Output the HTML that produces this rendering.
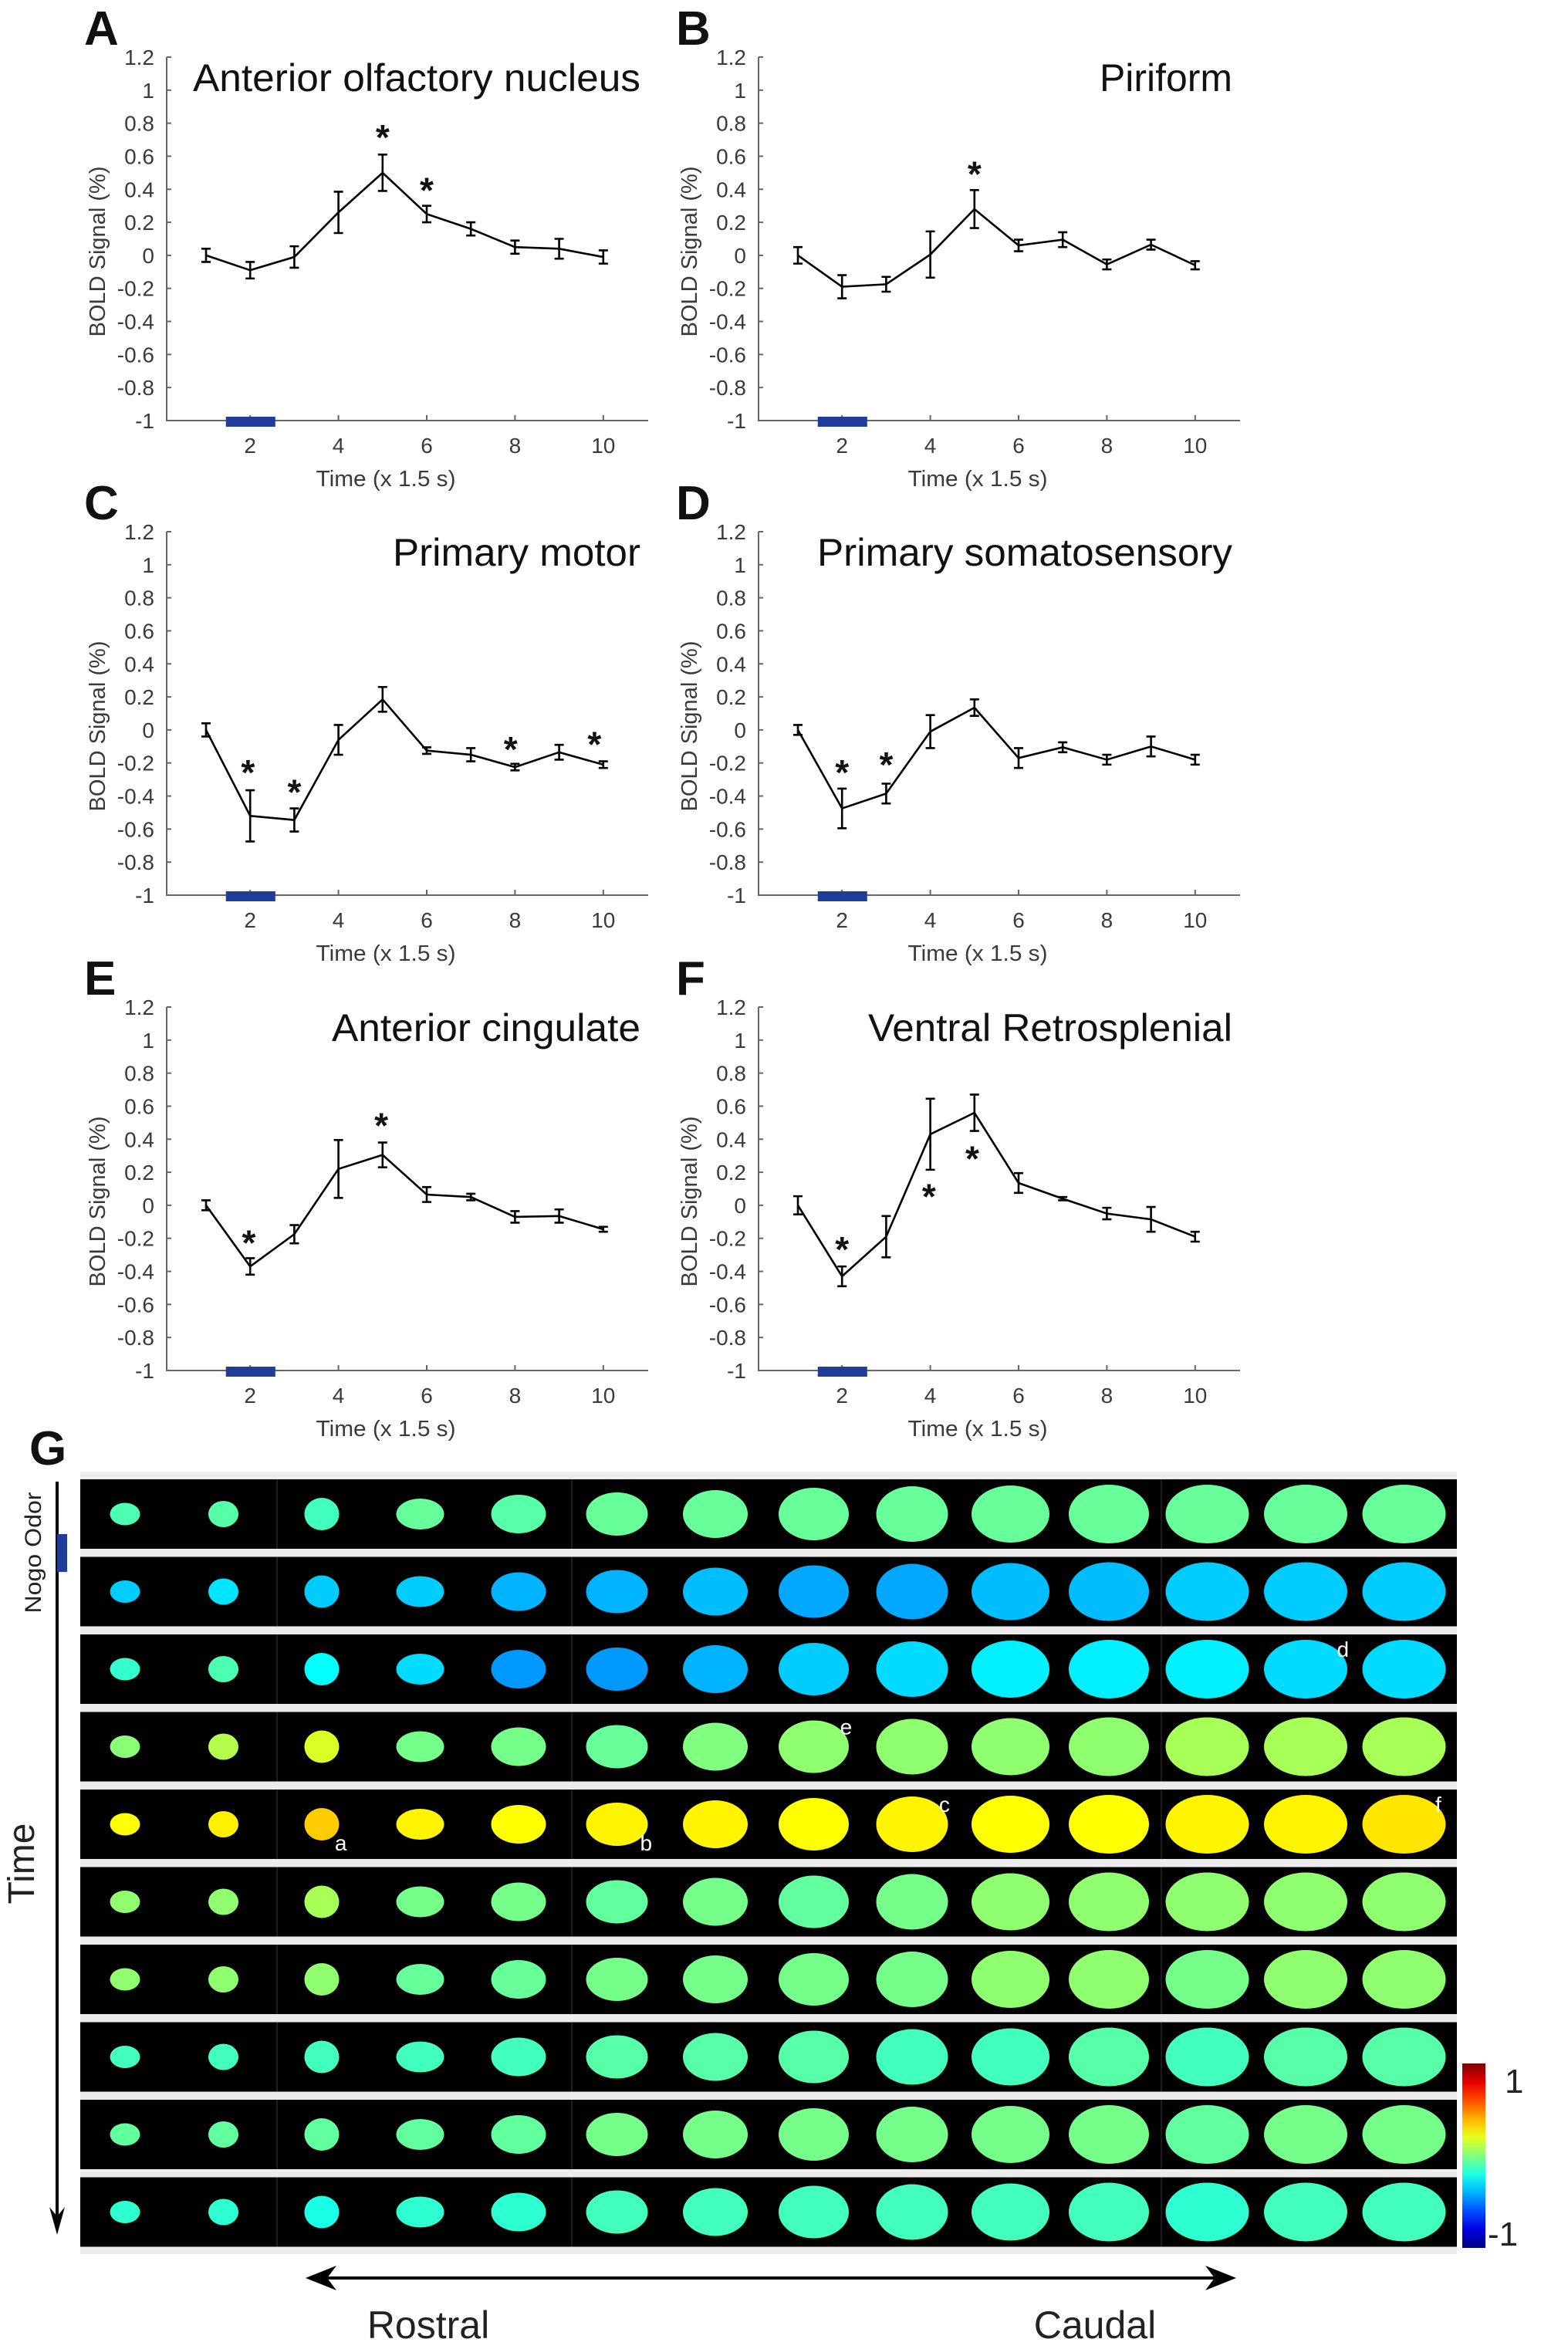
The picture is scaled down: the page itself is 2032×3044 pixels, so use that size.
<!DOCTYPE html>
<html><head><meta charset="utf-8"><style>
html,body{margin:0;padding:0;background:#fff}
svg{display:block;font-family:"Liberation Sans",sans-serif}
</style></head><body>
<svg id="fig" width="2032" height="3044" viewBox="0 0 2032 3044" xmlns="http://www.w3.org/2000/svg">
<rect x="0" y="0" width="2032" height="3044" fill="#fff"/>
<g id="charts"></g>
<g id="heat"></g>
</svg>
<script>
// ---- time-course data (panels A-F) ----
const timePoints = [1,2,3,4,5,6,7,8,9,10];
const yTicks = [1.2,1,0.8,0.6,0.4,0.2,0,-0.2,-0.4,-0.6,-0.8,-1];
const yTickLabels = ["1.2","1","0.8","0.6","0.4","0.2","0","-0.2","-0.4","-0.6","-0.8","-1"];
const xTicks = [2,4,6,8,10];
const xTickLabels = ["2","4","6","8","10"];
const panelLetters = ["A","B","C","D","E","F"];
const panelTitles = ["Anterior olfactory nucleus","Piriform","Primary motor","Primary somatosensory","Anterior cingulate","Ventral Retrosplenial"];
const stimOnset = 1.45, stimOffset = 2.57;

const meanA = [0,-0.09,-0.01,0.26,0.50,0.25,0.16,0.05,0.04,-0.01];
const errA  = [0.04,0.05,0.065,0.125,0.11,0.05,0.04,0.04,0.06,0.04];
const starA = [[5,0.76],[6,0.44]];
const meanB = [0,-0.19,-0.175,0.005,0.28,0.06,0.095,-0.055,0.065,-0.06];
const errB  = [0.05,0.07,0.045,0.14,0.115,0.035,0.045,0.03,0.03,0.025];
const starB = [[5,0.54]];
const meanC = [0,-0.52,-0.545,-0.06,0.185,-0.125,-0.15,-0.225,-0.135,-0.21];
const errC  = [0.04,0.155,0.07,0.09,0.075,0.02,0.04,0.02,0.045,0.02];
const starC = [[1.95,-0.21],[3,-0.33],[7.9,-0.07],[9.8,-0.04]];
const meanD = [0,-0.475,-0.385,-0.01,0.135,-0.17,-0.105,-0.18,-0.10,-0.18];
const errD  = [0.03,0.12,0.06,0.10,0.05,0.06,0.03,0.03,0.06,0.03];
const starD = [[2,-0.21],[3,-0.165]];
const meanE = [0,-0.37,-0.175,0.22,0.305,0.065,0.05,-0.07,-0.065,-0.145];
const errE  = [0.03,0.05,0.055,0.175,0.075,0.045,0.02,0.035,0.04,0.015];
const starE = [[1.97,-0.18],[4.97,0.53]];
const meanF = [0,-0.43,-0.19,0.43,0.56,0.135,0.04,-0.05,-0.085,-0.19];
const errF  = [0.055,0.06,0.125,0.215,0.11,0.06,0.01,0.035,0.075,0.03];
const starF = [[2,-0.22],[3.97,0.10],[4.95,0.33]];

const panelMeans = [meanA,meanB,meanC,meanD,meanE,meanF];
const panelErrs = [errA,errB,errC,errD,errE,errF];
const panelStars = [starA,starB,starC,starD,starE,starF];
const titleWidths = [580,172,321,538,400,472];

const NS = "http://www.w3.org/2000/svg";
function mk(tag, attrs, parent, txt){
  const e = document.createElementNS(NS, tag);
  for (const k in attrs) e.setAttribute(k, attrs[k]);
  if (txt !== undefined) e.textContent = txt;
  parent.appendChild(e); return e;
}
const charts = document.getElementById('charts');
const colX = [216, 983], rowY = [74, 689, 1305];
const AW = 624, AH = 471;

for (let p = 0; p < 6; p++) {
  const x0 = colX[p % 2], y0 = rowY[Math.floor(p / 2)];
  const yb = y0 + AH;
  const sx = v => x0 + 51 + (v - 1) * 57.2;
  const sy = v => y0 + (1.2 - v) * (AH / 2.2);
  const g = mk('g', {}, charts);
  
  

  const L = mk('text', {x: x0 - 107, y: y0 - 16, 'font-size': 62, 'font-weight': 'bold', fill: '#111'}, g, panelLetters[p]);
  
  

  const T = mk('text', {x: x0 + 614, y: y0 + 44, 'font-size': 50, 'text-anchor': 'end', fill: '#111', textLength: titleWidths[p], lengthAdjust: 'spacingAndGlyphs'}, g, panelTitles[p]);
  
  

  const ax = mk('path', {d: `M${x0} ${y0}V${yb}H${x0 + AW}`, stroke: '#666', 'stroke-width': 2, fill: 'none'}, g);
  
  
  yTicks.forEach((v, i) => {
    const y = sy(v);
    mk('line', {x1: x0, x2: x0 + 6, y1: y, y2: y, stroke: '#666', 'stroke-width': 2}, g);
    const t = mk('text', {x: x0 - 16, y: y + 10, 'font-size': 28, 'text-anchor': 'end', fill: '#3a3a3a'}, g, yTickLabels[i]);
    
    
  });
  xTicks.forEach((v, i) => {
    const x = sx(v);
    mk('line', {x1: x, x2: x, y1: yb, y2: yb - 7, stroke: '#666', 'stroke-width': 2}, g);
    const t = mk('text', {x: x, y: yb + 42, 'font-size': 28, 'text-anchor': 'middle', fill: '#3a3a3a'}, g, xTickLabels[i]);
    
    
  });
  const xl = mk('text', {x: x0 + 284, y: yb + 85, 'font-size': 29, 'text-anchor': 'middle', fill: '#3a3a3a', textLength: 181, lengthAdjust: 'spacingAndGlyphs'}, g, 'Time (x 1.5 s)');
  
  
  const yl = mk('text', {x: 0, y: 0, 'font-size': 29, 'text-anchor': 'middle', fill: '#3a3a3a', transform: `translate(${x0 - 80},${y0 + 252}) rotate(-90)`, textLength: 221, lengthAdjust: 'spacingAndGlyphs'}, g, 'BOLD Signal (%)');
  
  

  const sb = mk('rect', {x: sx(stimOnset), y: yb - 5, width: sx(stimOffset) - sx(stimOnset), height: 13, fill: '#1f3c99'}, g);
  
  

  const m = panelMeans[p], e = panelErrs[p];
  const ln = mk('polyline', {points: timePoints.map((t, i) => sx(t) + ',' + sy(m[i])).join(' '), fill: 'none', stroke: '#000', 'stroke-width': 2.6}, g);
  
  
  timePoints.forEach((t, i) => {
    const x = sx(t), ya = sy(m[i] + e[i]), yc = sy(m[i] - e[i]);
    const eb = mk('path', {d: `M${x} ${ya}V${yc}M${x - 6} ${ya}H${x + 6}M${x - 6} ${yc}H${x + 6}`, stroke: '#000', 'stroke-width': 2.6, fill: 'none'}, g);
    
    
  });
  panelStars[p].forEach(s => {
    const st = mk('text', {x: sx(s[0]), y: sy(s[1]) + 26, 'font-size': 46, 'font-weight': 'bold', 'text-anchor': 'middle', fill: '#111'}, g, '*');
    
    
  });
}

// ---- panel G heatmap data (mean % signal per slice, 10 time rows x 14 slices) ----
const sliceValues = [
  [-0.1,-0.08,-0.12,-0.05,-0.08,-0.05,-0.05,-0.05,-0.05,-0.05,-0.05,-0.05,-0.05,-0.05],
  [-0.35,-0.3,-0.35,-0.35,-0.4,-0.4,-0.38,-0.42,-0.42,-0.38,-0.38,-0.35,-0.35,-0.35],
  [-0.15,-0.1,-0.25,-0.32,-0.45,-0.45,-0.4,-0.35,-0.32,-0.28,-0.28,-0.28,-0.32,-0.32],
  [0.02,0.1,0.18,-0.02,-0.02,-0.05,0.0,0.03,0.03,0.03,0.03,0.08,0.08,0.08],
  [0.25,0.28,0.35,0.27,0.25,0.27,0.27,0.25,0.27,0.25,0.25,0.27,0.27,0.3],
  [0.03,0.03,0.08,-0.02,-0.02,-0.06,-0.02,-0.06,-0.02,0.03,0.03,0.03,0.03,0.03],
  [0.03,0.03,0.03,-0.05,-0.05,-0.02,-0.02,-0.02,-0.02,0.03,0.03,-0.02,0.03,0.03],
  [-0.12,-0.12,-0.12,-0.12,-0.12,-0.08,-0.08,-0.08,-0.12,-0.12,-0.08,-0.12,-0.08,-0.08],
  [-0.06,-0.06,-0.06,-0.06,-0.06,-0.02,-0.02,-0.02,-0.02,-0.02,-0.02,-0.06,-0.02,-0.02],
  [-0.16,-0.16,-0.2,-0.16,-0.16,-0.12,-0.12,-0.12,-0.12,-0.12,-0.12,-0.16,-0.12,-0.12]
];
const colorbarLabels = ["1","-1"];
const annotationLabels = [["a",4,2],["b",4,5],["c",4,8],["d",2,12],["e",3,7],["f",4,13]];

// layout (not data)
const sliceW = [39,39,45,62,71,80,84,91,93,101,104,108,108,108];
const sliceH = [29,34,42,40,50,56,62,68,72,74,76,76,76,76];

function jet(v){
  const t = Math.max(0, Math.min(1, (v + 1) / 2));
  const c = x => Math.round(255 * Math.max(0, Math.min(1, x)));
  return `rgb(${c(1.5 - Math.abs(4*t - 3))},${c(1.5 - Math.abs(4*t - 2))},${c(1.5 - Math.abs(4*t - 1))})`;
}
const heat = document.getElementById('heat');
const GX0 = 104, GX1 = 1888, GY0 = 1907;
const rowPitch = 100.5, bandH = 90;
const colX0 = 162, colPitch = 127.5;
mk('rect', {x: GX0, y: GY0, width: GX1 - GX0, height: 1014, fill: '#ececec'}, heat);
const gl = mk('text', {x: 38, y: 1898, 'font-size': 62, 'font-weight': 'bold', fill: '#111'}, heat, 'G');


sliceValues.forEach((row, r) => {
  const by = GY0 + 10 + r * rowPitch;
  const band = mk('rect', {x: GX0, y: by, width: GX1 - GX0, height: bandH, fill: '#000'}, heat);
  
  
  [359, 741, 1505].forEach(x => mk('line', {x1: x, x2: x, y1: by, y2: by + bandH, stroke: '#3a3a3a', 'stroke-width': 1}, heat));
  row.forEach((v, c) => {
    const cx = colX0 + c * colPitch, cy = by + bandH / 2;
    const el = mk('ellipse', {cx: cx, cy: cy, rx: sliceW[c] / 2, ry: sliceH[c] / 2, fill: jet(v)}, heat);
    
    
  });
});
annotationLabels.forEach(a => {
  const [lab, r, c] = a;
  const cx = colX0 + c * colPitch, cy = GY0 + 10 + r * rowPitch + bandH / 2;
  const tx = cx + sliceW[c] / 2 * 0.75, ty = cy + (lab === 'a' || lab === 'b' ? 26 : -24);
  const t = mk('text', {x: tx, y: ty + 8, 'font-size': 28, fill: '#fff'}, heat, lab);
  
  
});
const defs = mk('defs', {}, heat);
const lg = mk('linearGradient', {id: 'jetg', x1: 0, y1: 1, x2: 0, y2: 0}, defs);
for (let i = 0; i <= 10; i++) mk('stop', {offset: i / 10, 'stop-color': jet(-1 + i / 5)}, lg);
const cb = mk('rect', {x: 1895, y: 2674, width: 30, height: 239, fill: 'url(#jetg)'}, heat);


const c1 = mk('text', {x: 1950, y: 2712, 'font-size': 44, fill: '#222'}, heat, colorbarLabels[0]);


const c2 = mk('text', {x: 1928, y: 2910, 'font-size': 44, fill: '#222'}, heat, colorbarLabels[1]);


const ta = mk('path', {d: 'M74 1920V2880', stroke: '#000', 'stroke-width': 4}, heat);


mk('path', {d: 'M74 2896L64 2860L74 2872L84 2860Z', fill: '#000'}, heat);
const nb = mk('rect', {x: 74, y: 1988, width: 13, height: 49, fill: '#1f3c99'}, heat);


const no = mk('text', {x: 0, y: 0, 'font-size': 30, 'text-anchor': 'middle', fill: '#222', transform: 'translate(53,2012) rotate(-90)', textLength: 157, lengthAdjust: 'spacingAndGlyphs'}, heat, 'Nogo Odor');


const tl = mk('text', {x: 0, y: 0, 'font-size': 48, 'text-anchor': 'middle', fill: '#222', transform: 'translate(44,2415) rotate(-90)'}, heat, 'Time');


const rc = mk('path', {d: 'M412 2952H1584', stroke: '#000', 'stroke-width': 4}, heat);


mk('path', {d: 'M396 2952L436 2936L424 2952L436 2968Z', fill: '#000'}, heat);
mk('path', {d: 'M1602 2952L1562 2936L1574 2952L1562 2968Z', fill: '#000'}, heat);
const ro = mk('text', {x: 555, y: 3030, 'font-size': 50, 'text-anchor': 'middle', fill: '#222'}, heat, 'Rostral');


const ca = mk('text', {x: 1419, y: 3030, 'font-size': 50, 'text-anchor': 'middle', fill: '#222'}, heat, 'Caudal');


</script>
</body></html>
